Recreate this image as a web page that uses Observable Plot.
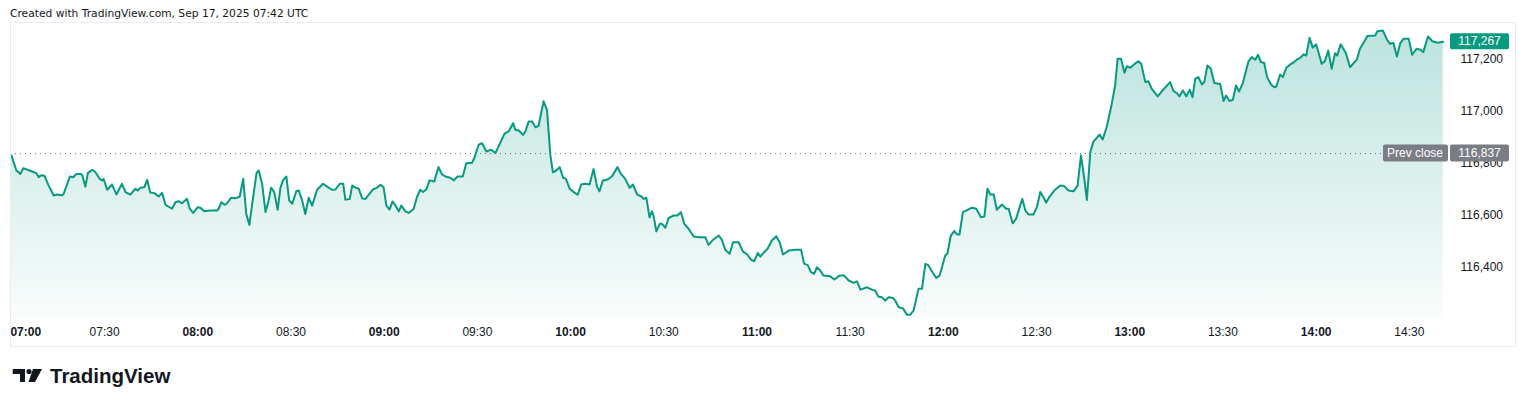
<!DOCTYPE html>
<html>
<head>
<meta charset="utf-8">
<script src="https://cdn.jsdelivr.net/npm/d3@7"></script>
<script src="https://cdn.jsdelivr.net/npm/@observablehq/plot@0.6"></script>
<style>
  html, body { margin: 0; padding: 0; background: #ffffff; }
  body { width: 1524px; height: 407px; overflow: hidden; position: relative; font-family: "DejaVu Sans", sans-serif; }
  #header { position: absolute; left: 10px; top: 7px; font-family: "DejaVu Sans", sans-serif; font-size: 10.7px; color: #131722; white-space: nowrap; }
  #chart { position: absolute; left: 0; top: 22px; width: 1524px; height: 325px; }
  #pane { position: absolute; left: 10px; top: 22px; width: 1504px; height: 323px; border: 1px solid #e9ecf2; pointer-events: none; }
  #footer { position: absolute; left: 12px; top: 364px; }
</style>
</head>
<body>
<div id="header">Created with TradingView.com, Sep 17, 2025 07:42 UTC</div>
<div id="chart"></div>
<div id="pane"></div>
<div id="footer">
  <svg width="170" height="32" viewBox="0 0 170 32">
    <path d="M0.7 5 H13 V18 H8 V10 H0.7 Z" fill="#131722"/>
    <circle cx="17" cy="7.5" r="2.6" fill="#131722"/>
    <path d="M21 5 H30 L23 18 H16.5 Z" fill="#131722"/>
    <text x="38" y="18.5" font-family="Liberation Sans, sans-serif" font-weight="700" font-size="20.5" fill="#131722">TradingView</text>
  </svg>
</div>
<script>
// ---- data ----
const minutes = [0.0,1.6,2.9,3.8,6.7,8.0,8.8,9.6,10.6,12.0,13.6,14.7,16.3,16.8,18.8,19.9,20.9,22.2,22.8,23.8,24.6,26.0,27.0,28.4,29.2,29.7,30.8,32.4,33.8,35.6,36.7,38.3,39.9,40.6,41.5,42.8,43.7,44.7,46.0,47.4,48.5,49.6,51.7,52.8,53.8,54.9,56.5,57.4,58.5,60.0,60.8,62.1,64.0,66.2,66.7,67.6,68.6,69.4,70.7,72.1,73.5,74.6,75.6,76.6,77.5,78.9,79.6,80.7,81.8,82.8,83.6,84.6,85.7,86.6,87.4,88.5,89.4,90.4,91.7,92.5,93.6,94.6,95.7,96.8,98.4,100.3,102.1,103.2,104.3,105.7,106.8,107.5,108.9,109.7,110.7,111.8,112.9,113.9,116.4,117.7,118.8,119.8,120.7,121.7,122.7,123.8,124.7,125.5,126.8,127.9,129.5,130.6,131.6,132.5,133.6,134.6,136.1,137.5,138.6,139.7,141.3,142.4,143.6,145.3,146.4,148.3,149.1,150.4,151.5,152.9,154.4,155.8,158.7,160.1,161.5,162.2,163.3,164.7,165.4,166.5,167.6,168.7,169.7,171.3,172.4,173.5,174.3,175.4,176.5,177.6,178.5,179.7,181.0,182.3,183.4,184.7,186.1,187.4,188.5,189.3,190.4,191.7,193.3,195.1,196.2,197.6,199.0,200.1,201.4,202.8,203.5,204.4,205.4,206.2,206.7,207.6,208.7,209.4,210.5,211.6,213.2,214.4,215.5,216.6,218.0,219.6,221.2,223.4,224.4,225.8,227.7,228.7,229.8,231.2,232.3,234.1,235.5,236.6,238.1,239.1,240.3,241.1,242.1,243.4,244.8,246.2,247.3,248.4,250.2,252.3,254.2,255.2,256.3,257.4,258.4,259.3,260.4,261.4,263.6,264.9,266.6,268.1,269.5,271.1,272.2,273.3,275.4,277.0,278.1,279.1,280.2,281.3,282.4,283.8,284.5,285.6,287.0,288.3,289.3,290.4,292.0,293.1,294.2,295.2,296.7,297.7,298.8,300.6,301.3,302.4,303.5,304.4,305.2,306.3,307.8,309.2,310.6,312.1,313.2,314.2,315.1,316.2,317.2,318.9,320.2,321.0,322.3,323.4,325.4,326.4,327.4,329.0,330.1,331.2,332.1,333.1,334.2,335.7,337.6,338.9,340.3,341.9,343.2,344.3,345.3,346.2,347.3,348.3,350.3,351.3,352.6,354.2,355.3,356.1,357.2,358.3,359.1,360.2,361.4,362.8,363.7,365.0,366.0,367.1,369.0,370.7,373.0,374.1,375.2,376.0,377.1,378.2,379.3,380.2,381.1,382.1,383.2,384.0,385.0,386.1,387.2,389.1,390.2,391.0,392.1,393.2,394.2,395.2,396.4,398.2,399.3,400.4,401.3,402.2,403.3,404.2,405.5,406.5,407.2,408.4,409.3,410.4,411.7,412.9,413.8,414.9,415.9,416.8,417.9,418.9,420.0,421.8,422.8,423.9,425.0,426.1,426.8,427.9,429.6,430.9,433.1,434.1,435.7,436.5,439.0,439.7,441.5,442.8,443.8,444.9,446.0,447.1,448.2,449.8,450.9,452.3,453.6,454.5,456.0,457.4,459.0,460.9];
const prices = [116830,116772,116759,116781,116768,116762,116746,116754,116752,116714,116676,116680,116677,116682,116749,116746,116759,116759,116755,116710,116762,116775,116766,116740,116734,116739,116698,116718,116680,116721,116689,116679,116702,116695,116706,116708,116736,116687,116685,116672,116686,116640,116625,116650,116654,116646,116663,116625,116609,116631,116629,116615,116618,116618,116625,116650,116640,116646,116667,116665,116672,116740,116605,116563,116644,116762,116772,116721,116612,116657,116706,116689,116621,116706,116734,116749,116657,116644,116692,116695,116657,116605,116667,116637,116698,116721,116706,116698,116699,116721,116721,116660,116662,116714,116706,116702,116665,116662,116699,116706,116717,116708,116637,116622,116653,116634,116615,116637,116615,116609,116625,116672,116698,116689,116700,116734,116730,116785,116757,116749,116744,116734,116749,116749,116800,116802,116823,116871,116877,116845,116852,116839,116913,116923,116954,116929,116926,116909,116921,116960,116960,116938,116944,117038,117005,116830,116765,116772,116785,116744,116740,116702,116689,116679,116718,116721,116718,116778,116710,116692,116734,116736,116749,116785,116759,116740,116705,116718,116680,116672,116663,116667,116592,116615,116599,116538,116567,116567,116552,116590,116599,116599,116612,116567,116548,116518,116515,116515,116486,116505,116522,116505,116467,116452,116496,116496,116460,116452,116429,116423,116455,116441,116455,116471,116503,116519,116496,116449,116464,116467,116467,116413,116409,116381,116375,116400,116387,116368,116365,116353,116368,116368,116349,116340,116346,116314,116323,116314,116310,116287,116285,116272,116285,116282,116272,116246,116242,116217,116217,116233,116317,116317,116413,116407,116377,116359,116368,116445,116452,116522,116539,116526,116526,116612,116621,116629,116625,116592,116595,116702,116680,116680,116621,116641,116625,116625,116569,116586,116663,116618,116603,116603,116631,116689,116672,116649,116672,116695,116714,116712,116695,116692,116714,116830,116746,116659,116842,116883,116910,116891,116940,117028,117099,117202,117202,117148,117173,117167,117180,117192,117182,117112,117115,117086,117057,117082,117112,117077,117069,117057,117080,117057,117082,117054,117125,117131,117103,117112,117176,117163,117108,117105,117039,117060,117039,117044,117099,117076,117108,117191,117208,117198,117217,117189,117185,117131,117103,117092,117095,117141,117131,117167,117180,117189,117198,117205,117218,117214,117282,117244,117257,117182,117192,117233,117163,117223,117214,117257,117223,117169,117198,117240,117272,117289,117291,117307,117310,117275,117259,117262,117210,117262,117279,117279,117217,117240,117236,117227,117287,117269,117263,117267];
const xTickMinutes = [0,30,60,90,120,150,180,210,240,270,300,330,360,390,420,450];
const xTickLabels = ["07:00","07:30","08:00","08:30","09:00","09:30","10:00","10:30","11:00","11:30","12:00","12:30","13:00","13:30","14:00","14:30"];
const yTicks = [116400,116600,116800,117000,117200];
const prevClose = 116837;
const prevCloseLabel = "Prev close";

// ---- build ----
const rows = minutes.map((m, i) => ({m, p: prices[i]}));
const lastPrice = prices[prices.length - 1];
const ticks = xTickMinutes.map((m, i) => ({m, label: xTickLabels[i], hour: m % 60 === 0}));
const yDomain = [116203, 117341];
const fmt = d3.format(",");
const NS = "http://www.w3.org/2000/svg";

function gradientDefs() {
  const defs = document.createElementNS(NS, "defs");
  defs.innerHTML = '<linearGradient id="tvgrad" x1="0" y1="0" x2="0" y2="300" gradientUnits="userSpaceOnUse">' +
    '<stop offset="0" stop-color="#089981" stop-opacity="0.28"/>' +
    '<stop offset="1" stop-color="#089981" stop-opacity="0.02"/></linearGradient>';
  return defs;
}

function badges(index, scales, values, dims) {
  const ys = typeof scales.y === "function" ? scales.y : (v) => scales.scales.y.apply(v);
  const g = document.createElementNS(NS, "g");
  const xr = dims.width - dims.marginRight;
  function box(x, y, w, h, fill) {
    const r = document.createElementNS(NS, "rect");
    r.setAttribute("x", x); r.setAttribute("y", y);
    r.setAttribute("width", w); r.setAttribute("height", h);
    r.setAttribute("rx", 2);
    r.setAttribute("fill", fill);
    g.appendChild(r);
  }
  function label(x, y, s) {
    const t = document.createElementNS(NS, "text");
    t.setAttribute("x", x); t.setAttribute("y", y);
    t.setAttribute("text-anchor", "middle");
    t.setAttribute("dy", "0.35em");
    t.setAttribute("fill", "#ffffff");
    t.setAttribute("font-size", "12");
    t.textContent = s;
    g.appendChild(t);
  }
  const yPrev = ys(prevClose);
  box(xr - 60, yPrev - 8.5, 65, 17, "#7b7d84");
  label(xr - 28, yPrev, prevCloseLabel);
  box(xr + 7, yPrev - 8.5, 59, 17, "#7b7d84");
  label(xr + 36.5, yPrev, fmt(prevClose));
  const yLast = ys(lastPrice);
  box(xr + 7, yLast - 8, 59, 16, "#089981");
  label(xr + 36.5, yLast, fmt(lastPrice));
  return g;
}

const chart = Plot.plot({
  width: 1524,
  height: 325,
  marginLeft: 10,
  marginRight: 81,
  marginTop: 0,
  marginBottom: 29,
  x: {domain: [-0.3, 461], axis: null},
  y: {domain: yDomain},
  style: {fontFamily: "Liberation Sans, sans-serif", fontSize: "12px", color: "#131722", background: "transparent", overflow: "visible"},
  marks: [
    gradientDefs,
    Plot.areaY(rows, {x: "m", y1: yDomain[0], y2: "p", fill: "url(#tvgrad)", curve: "linear"}),
    Plot.ruleY([prevClose], {stroke: "#6a6d78", strokeWidth: 1, strokeDasharray: "1,4"}),
    Plot.lineY(rows, {x: "m", y: "p", stroke: "#089981", strokeWidth: 2, strokeLinejoin: "round"}),
    Plot.axisY({anchor: "right", ticks: yTicks, tickSize: 0, tickPadding: 17, tickFormat: fmt, label: null, textAnchor: "start", fill: "#131722"}),
    Plot.text(ticks.filter(d => d.hour && d.m > 0), {x: "m", y: yDomain[0], dy: 14, text: "label", fontWeight: "bold", fill: "#131722"}),
    Plot.text(ticks.filter(d => !d.hour), {x: "m", y: yDomain[0], dy: 14, text: "label", fill: "#131722"}),
    Plot.text(ticks.filter(d => d.m === 0), {x: "m", y: yDomain[0], dy: 14, dx: -1, text: "label", fontWeight: "bold", textAnchor: "start", fill: "#131722"}),
    badges
  ]
});
document.getElementById("chart").appendChild(chart);
</script>
</body>
</html>
